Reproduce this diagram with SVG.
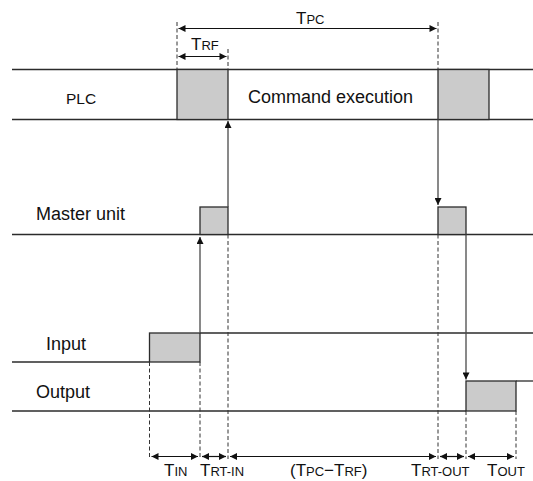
<svg xmlns="http://www.w3.org/2000/svg" width="533" height="481" viewBox="0 0 533 481">
<style>
  .ln{stroke:#2b2b2b;stroke-width:1.3;fill:none}
  .ar{stroke:#4a4a4a;stroke-width:1.3;fill:none}
  .box{fill:#cbcbcb;stroke:#2b2b2b;stroke-width:1.3}
  .dash{stroke:#333;stroke-width:1;stroke-dasharray:4,2.5;fill:none}
  .dim{stroke:#111;stroke-width:1.2;fill:none}
  text{font-family:"Liberation Sans",Arial,Helvetica,sans-serif;fill:#111}
  .lbl{font-size:18px}
  .plc{font-size:15.5px}
  .big{font-size:17px}
  .sm{font-size:13px}
</style>
<defs>
  <marker id="ah" viewBox="0 0 10 10" refX="10" refY="5" markerWidth="8" markerHeight="7" markerUnits="userSpaceOnUse" orient="auto-start-reverse">
    <path d="M0,0 L10,5 L0,10 z" fill="#111"/>
  </marker>
</defs>

<g id="plc">
  <line class="ln" x1="12" y1="69.5" x2="533" y2="69.5"/>
  <line class="ln" x1="12" y1="119.5" x2="533" y2="119.5"/>
  <rect class="box" x="177" y="69.5" width="51" height="50"/>
  <rect class="box" x="438" y="69.5" width="51" height="50"/>
  <text class="plc" x="66" y="104">PLC</text>
  <text class="lbl" x="248" y="103">Command execution</text>
</g>

<g id="master">
  <line class="ln" x1="12" y1="234.5" x2="533" y2="234.5"/>
  <rect class="box" x="200" y="207" width="28" height="27.5"/>
  <rect class="box" x="438" y="207" width="28" height="27.5"/>
  <text class="lbl" x="36" y="220">Master unit</text>
</g>

<g id="input">
  <rect class="box" x="149.5" y="333" width="50.5" height="29"/>
  <polyline class="ln" points="12,362 149.5,362"/>
  <line class="ln" x1="200" y1="333" x2="533" y2="333"/>
  <text class="lbl" x="46" y="350">Input</text>
</g>

<g id="output">
  <rect class="box" x="466" y="381" width="50" height="30"/>
  <line class="ln" x1="12" y1="411" x2="466" y2="411"/>
  <line class="ln" x1="516" y1="381" x2="533" y2="381"/>
  <text class="lbl" x="36" y="398">Output</text>
</g>

<g id="connectors">
  <line class="ar" x1="228" y1="207" x2="228" y2="121" marker-end="url(#ah)"/>
  <line class="ar" x1="438" y1="119.5" x2="438" y2="205" marker-end="url(#ah)"/>
  <line class="ar" x1="200" y1="333" x2="200" y2="237" marker-end="url(#ah)"/>
  <line class="ar" x1="466" y1="234.5" x2="466" y2="379.5" marker-end="url(#ah)"/>
</g>

<g id="guides">
  <line class="dash" x1="177" y1="22" x2="177" y2="69.5"/>
  <line class="dash" x1="438" y1="22" x2="438" y2="69.5"/>
  <line class="dash" x1="228" y1="49" x2="228" y2="69.5"/>
  <line class="dash" x1="149.5" y1="362" x2="149.5" y2="459"/>
  <line class="dash" x1="200" y1="362" x2="200" y2="459"/>
  <line class="dash" x1="228" y1="234.5" x2="228" y2="459"/>
  <line class="dash" x1="438" y1="234.5" x2="438" y2="459"/>
  <line class="dash" x1="466" y1="411" x2="466" y2="459"/>
  <line class="dash" x1="516" y1="411" x2="516" y2="459"/>
</g>

<g id="dimensions">
  <line class="dim" x1="178.5" y1="28.5" x2="436.5" y2="28.5" marker-start="url(#ah)" marker-end="url(#ah)"/>
  <line class="dim" x1="178.5" y1="56.5" x2="226.5" y2="56.5" marker-start="url(#ah)" marker-end="url(#ah)"/>
  <line class="dim" x1="151.5" y1="456.5" x2="198" y2="456.5" marker-start="url(#ah)" marker-end="url(#ah)"/>
  <line class="dim" x1="202" y1="456.5" x2="226" y2="456.5" marker-start="url(#ah)" marker-end="url(#ah)"/>
  <line class="dim" x1="230" y1="456.5" x2="436" y2="456.5" marker-start="url(#ah)" marker-end="url(#ah)"/>
  <line class="dim" x1="440" y1="456.5" x2="464" y2="456.5" marker-start="url(#ah)" marker-end="url(#ah)"/>
  <line class="dim" x1="468" y1="456.5" x2="514" y2="456.5" marker-start="url(#ah)" marker-end="url(#ah)"/>

  <text class="big" x="296" y="24">T<tspan class="sm">PC</tspan></text>
  <text class="big" x="191" y="50">T<tspan class="sm">RF</tspan></text>
  <text class="big" x="164" y="476">T<tspan class="sm">IN</tspan></text>
  <text class="big" x="200" y="476">T<tspan class="sm">RT-IN</tspan></text>
  <text class="big" x="290" y="476">(T<tspan class="sm">PC</tspan>−T<tspan class="sm">RF</tspan>)</text>
  <text class="big" x="411" y="476">T<tspan class="sm">RT-OUT</tspan></text>
  <text class="big" x="487" y="476">T<tspan class="sm">OUT</tspan></text>
</g>
</svg>
